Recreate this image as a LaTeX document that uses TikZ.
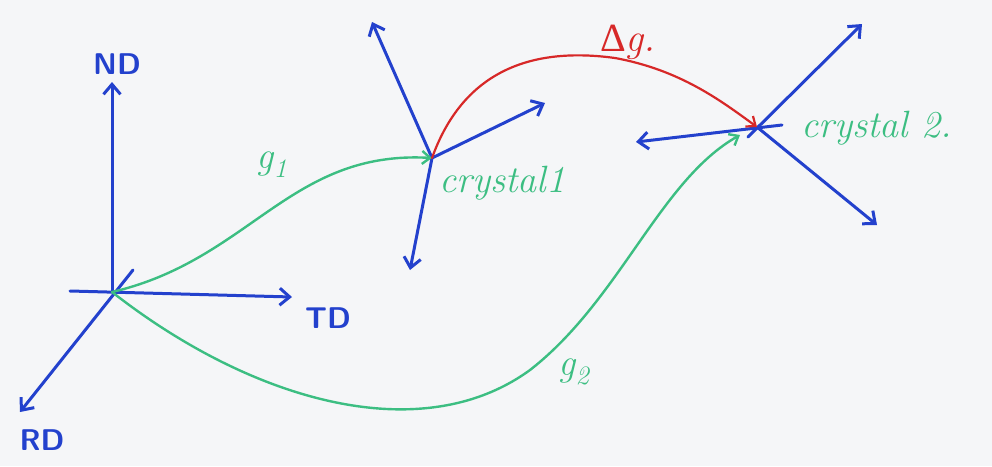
\documentclass[tikz,border=0pt]{standalone}
\usepackage{fontspec}
\newfontfamily\deltafont{Liberation Serif}
\usetikzlibrary{arrows.meta}
\definecolor{penblue}{RGB}{35,65,205}
\definecolor{pengreen}{RGB}{60,190,130}
\definecolor{penred}{RGB}{215,40,40}
\definecolor{paper}{RGB}{245,246,248}
\tikzset{
  axis/.style={draw=penblue, line width=3pt, line cap=round, -{Straight Barb[length=10pt,width=17pt,line width=3pt]}},
  rot/.style={draw=pengreen, line width=2.4pt, line cap=round, -{Straight Barb[length=8pt,width=13pt,line width=2.4pt]}},
  mis/.style={draw=penred, line width=2.2pt, line cap=round, -{Straight Barb[length=8pt,width=13pt,line width=2.2pt]}},
  bluelbl/.style={text=penblue, font=\fontsize{30}{32}\selectfont\bfseries\sffamily},
  greenlbl/.style={text=pengreen, font=\fontsize{38}{40}\selectfont\itshape},
  redlbl/.style={text=penred, font=\fontsize{40}{42}\selectfont\itshape},
}
\begin{document}
\begin{tikzpicture}[x=1pt,y=-1pt]
\fill[paper] (0,0) rectangle (992,466);
\useasboundingbox (0,0) rectangle (992,466);
% sample frame
\coordinate (O) at (112,292);
\coordinate (NDe) at (112,82);
\coordinate (TDs) at (70,291);
\coordinate (TDe) at (292,297);
\coordinate (RDs) at (133,270);
\coordinate (RDe) at (20,412);
% crystal 1
\coordinate (C1) at (432,158);
\coordinate (C1a) at (372,22);
\coordinate (C1b) at (545,103);
\coordinate (C1c) at (410,270);
% crystal 2
\coordinate (C2) at (757,127);
\coordinate (C2as) at (748,137);
\coordinate (C2a) at (862,24);
\coordinate (C2bs) at (782,125);
\coordinate (C2b) at (636,142);
\coordinate (C2c) at (877,225);
% axes
\draw[axis] (O) -- (NDe);
\draw[axis] (TDs) -- (TDe);
\draw[axis] (RDs) -- (RDe);
\node[bluelbl] (ND) at (117,64) {ND};
\node[bluelbl] (TD) at (328,318) {TD};
\node[bluelbl] (RD) at (42,440) {RD};
% crystal 1 axes
\draw[axis] (C1) -- (C1a);
\draw[axis] (C1) -- (C1b);
\draw[axis] (C1) -- (C1c);
% crystal 2 axes
\draw[axis] (C2as) -- (C2a);
\draw[axis] (C2bs) -- (C2b);
\draw[axis] (C2) -- (C2c);
% rotations
\draw[rot] (O) .. controls (250,260) and (290,150) .. (C1);
\draw[rot] (O) .. controls (250,400) and (420,450) .. (530,370) .. controls (620,300) and (660,180) .. (740,135);
\draw[mis] (C1) .. controls (460,80) and (520,45) .. (615,58) .. controls (680,70) and (720,100) .. (C2);
% labels
\node[greenlbl] (g1) at (272,165) {g\textsubscript{1}};
\node[greenlbl] (g2) at (574,372) {g\textsubscript{2}};
\node[greenlbl, anchor=west] (c1lbl) at (436,183) {crystal1};
\node[greenlbl, anchor=west] (c2lbl) at (798,128) {crystal 2.};
\node[redlbl] (dg) at (628,42) {{\deltafont\upshape Δ}g.};
\end{tikzpicture}
\end{document}
